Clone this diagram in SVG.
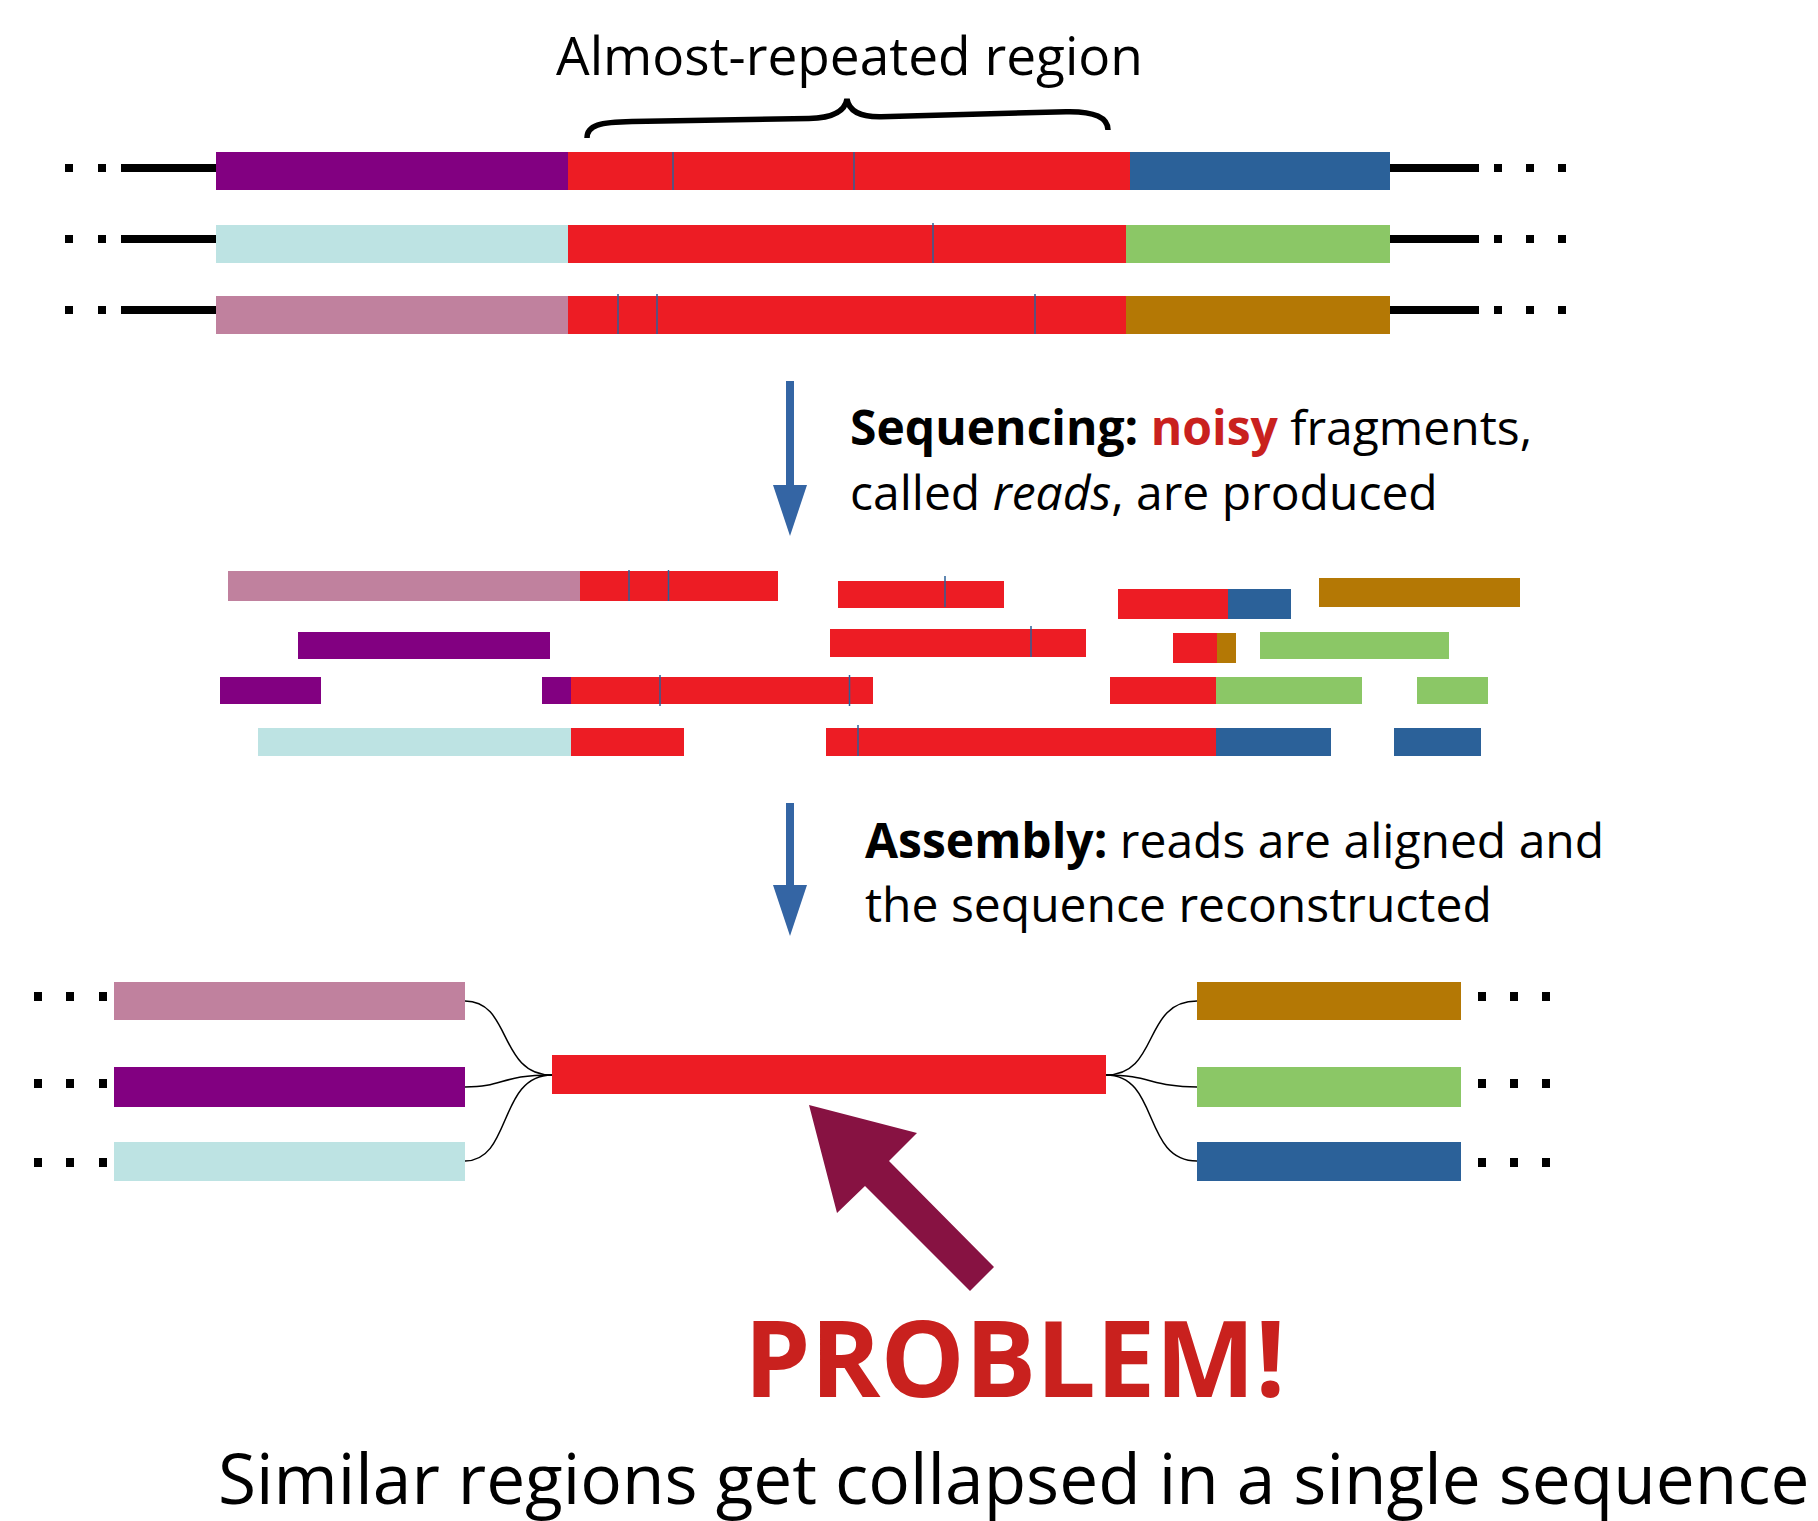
<svg xmlns="http://www.w3.org/2000/svg" width="1818" height="1521" viewBox="0 0 1818 1521">
<style>
text{font-family:"Open Sans","Liberation Sans",sans-serif;fill:#000}
.pu{fill:#820081}.pk{fill:#C0819E}.cy{fill:#BDE3E3}.rd{fill:#ED1C24}.bl{fill:#2B6199}.gr{fill:#8BC766}.br{fill:#B47805}
.tick{stroke:#2B6199;stroke-width:1.5}
.dot{fill:#000}
.line{stroke:#000;stroke-width:8}
.conn{fill:none;stroke:#000;stroke-width:1.5}
.b{font-weight:bold}
</style>
<rect width="1818" height="1521" fill="#fff"/>

<g id="title">
<text x="556" y="75" font-size="53.2">Almost-repeated region</text>
<path d="M587,138 C587,125 600,122 632,121.5 L809,118.5 C830,118 845,112 847,99 C849,112 862,117 881,116.7 L1066,111.7 C1095,111 1108,118 1108,130" fill="none" stroke="#000" stroke-width="5.5"/>
</g>

<g id="genome1">
<rect class="dot" x="65" y="164" width="8" height="8"/><rect class="dot" x="98" y="164" width="8" height="8"/>
<line class="line" x1="121" y1="168" x2="216" y2="168"/>
<line class="line" x1="1390" y1="168" x2="1479" y2="168"/>
<rect class="dot" x="1494" y="164" width="8" height="8"/><rect class="dot" x="1526" y="164" width="8" height="8"/><rect class="dot" x="1558" y="164" width="8" height="8"/>
<rect class="pu" x="216" y="152" width="352" height="38"/>
<rect class="rd" x="568" y="152" width="562" height="38"/>
<rect class="bl" x="1130" y="152" width="260" height="38"/>
<line class="tick" x1="673" y1="152" x2="673" y2="190"/>
<line class="tick" x1="854" y1="152" x2="854" y2="190"/>
</g>

<g id="genome2">
<rect class="dot" x="65" y="235" width="8" height="8"/><rect class="dot" x="98" y="235" width="8" height="8"/>
<line class="line" x1="121" y1="239" x2="216" y2="239"/>
<line class="line" x1="1390" y1="239" x2="1479" y2="239"/>
<rect class="dot" x="1494" y="235" width="8" height="8"/><rect class="dot" x="1526" y="235" width="8" height="8"/><rect class="dot" x="1558" y="235" width="8" height="8"/>
<rect class="cy" x="216" y="225" width="352" height="38"/>
<rect class="rd" x="568" y="225" width="558" height="38"/>
<rect class="gr" x="1126" y="225" width="264" height="38"/>
<line class="tick" x1="933" y1="223" x2="933" y2="263"/>
</g>

<g id="genome3">
<rect class="dot" x="65" y="306" width="8" height="8"/><rect class="dot" x="98" y="306" width="8" height="8"/>
<line class="line" x1="121" y1="310" x2="216" y2="310"/>
<line class="line" x1="1390" y1="310" x2="1479" y2="310"/>
<rect class="dot" x="1494" y="306" width="8" height="8"/><rect class="dot" x="1526" y="306" width="8" height="8"/><rect class="dot" x="1558" y="306" width="8" height="8"/>
<rect class="pk" x="216" y="296" width="352" height="38"/>
<rect class="rd" x="568" y="296" width="558" height="38"/>
<rect class="br" x="1126" y="296" width="264" height="38"/>
<line class="tick" x1="618" y1="294" x2="618" y2="334"/>
<line class="tick" x1="657" y1="294" x2="657" y2="334"/>
<line class="tick" x1="1035" y1="294" x2="1035" y2="334"/>
</g>

<g id="sequencing-label">
<text x="850" y="445" font-size="48"><tspan class="b">Sequencing:</tspan> <tspan class="b" fill="#C9211E" style="fill:#C9211E">noisy</tspan> fragments,</text>
<text x="850" y="510" font-size="48">called <tspan font-style="italic">reads</tspan>, are produced</text>
</g>

<g id="reads">
<rect class="pk" x="228" y="571" width="352" height="30"/>
<rect class="rd" x="580" y="571" width="198" height="30"/>
<line class="tick" x1="629" y1="570" x2="629" y2="601"/>
<line class="tick" x1="668.5" y1="570" x2="668.5" y2="601"/>

<rect class="rd" x="838" y="581" width="166" height="27"/>
<line class="tick" x1="945" y1="576" x2="945" y2="607"/>

<rect class="rd" x="1118" y="589" width="110" height="30"/>
<rect class="bl" x="1228" y="589" width="63" height="30"/>
<rect class="br" x="1319" y="578" width="201" height="29"/>

<rect class="pu" x="298" y="632" width="252" height="27"/>
<rect class="rd" x="830" y="629" width="256" height="28"/>
<line class="tick" x1="1031" y1="626" x2="1031" y2="657"/>
<rect class="rd" x="1173" y="633" width="44" height="30"/>
<rect class="br" x="1217" y="633" width="19" height="30"/>
<rect class="gr" x="1260" y="632" width="189" height="27"/>

<rect class="pu" x="220" y="677" width="101" height="27"/>
<rect class="pu" x="542" y="677" width="29" height="27"/>
<rect class="rd" x="571" y="677" width="302" height="27"/>
<line class="tick" x1="660" y1="675" x2="660" y2="706"/>
<line class="tick" x1="849.5" y1="675" x2="849.5" y2="706"/>
<rect class="rd" x="1110" y="677" width="106" height="27"/>
<rect class="gr" x="1216" y="677" width="146" height="27"/>
<rect class="gr" x="1417" y="677" width="71" height="27"/>

<rect class="cy" x="258" y="728" width="313" height="28"/>
<rect class="rd" x="571" y="728" width="113" height="28"/>
<rect class="rd" x="826" y="728" width="390" height="28"/>
<line class="tick" x1="858" y1="725" x2="858" y2="756"/>
<rect class="bl" x="1216" y="728" width="115" height="28"/>
<rect class="bl" x="1394" y="728" width="87" height="28"/>
</g>

<g id="assembly-label">
<text x="865" y="858" font-size="48"><tspan class="b">Assembly:</tspan> reads are aligned and</text>
<text x="865" y="922" font-size="48">the sequence reconstructed</text>
</g>

<g id="left-pink"><rect class="dot" x="34" y="992" width="8" height="9"/><rect class="dot" x="66" y="992" width="8" height="9"/><rect class="dot" x="99" y="992" width="8" height="9"/><rect class="pk" x="114" y="982" width="351" height="38"/></g>
<g id="left-purple"><rect class="dot" x="34" y="1079" width="8" height="9"/><rect class="dot" x="66" y="1079" width="8" height="9"/><rect class="dot" x="99" y="1079" width="8" height="9"/><rect class="pu" x="114" y="1067" width="351" height="40"/></g>
<g id="left-cyan"><rect class="dot" x="34" y="1158" width="8" height="9"/><rect class="dot" x="66" y="1158" width="8" height="9"/><rect class="dot" x="99" y="1158" width="8" height="9"/><rect class="cy" x="114" y="1142" width="351" height="39"/></g>
<g id="collapsed-repeat"><rect class="rd" x="552" y="1055" width="554" height="39"/></g>
<g id="right-brown"><rect class="br" x="1197" y="982" width="264" height="38"/><rect class="dot" x="1478" y="992" width="8" height="9"/><rect class="dot" x="1510" y="992" width="8" height="9"/><rect class="dot" x="1542" y="992" width="8" height="9"/></g>
<g id="right-green"><rect class="gr" x="1197" y="1067" width="264" height="40"/><rect class="dot" x="1478" y="1079" width="8" height="9"/><rect class="dot" x="1510" y="1079" width="8" height="9"/><rect class="dot" x="1542" y="1079" width="8" height="9"/></g>
<g id="right-blue"><rect class="bl" x="1197" y="1142" width="264" height="39"/><rect class="dot" x="1478" y="1158" width="8" height="9"/><rect class="dot" x="1510" y="1158" width="8" height="9"/><rect class="dot" x="1542" y="1158" width="8" height="9"/></g>

<g id="connectors">
<path d="M790,381 V487" stroke="#3465A4" stroke-width="8"/>
<polygon points="773,485 807,485 790,536" fill="#3465A4"/>
<path d="M790,803 V887" stroke="#3465A4" stroke-width="8"/>
<polygon points="773,885 807,885 790,936" fill="#3465A4"/>
<path class="conn" d="M465,1001 C512,1001 498,1075 552,1075"/>
<path class="conn" d="M465,1087 C505,1087 500,1075 552,1075"/>
<path class="conn" d="M465,1161 C512,1161 498,1075 552,1075"/>
<path class="conn" d="M1106,1075 C1160,1075 1142,1001 1197,1001"/>
<path class="conn" d="M1106,1075 C1150,1075 1152,1087 1197,1087"/>
<path class="conn" d="M1106,1075 C1160,1075 1142,1161 1197,1161"/>
<polygon points="809,1105 917,1133 889,1161 994,1267 970,1291 865,1186 837,1213" fill="#871242"/>
</g>

<g id="problem">
<text x="744" y="1397" font-size="106" font-weight="bold" style="fill:#C9211E">PROBLEM!</text>
<text x="218" y="1504" font-size="69.4">Similar regions get collapsed in a single sequence</text>
</g>
</svg>
